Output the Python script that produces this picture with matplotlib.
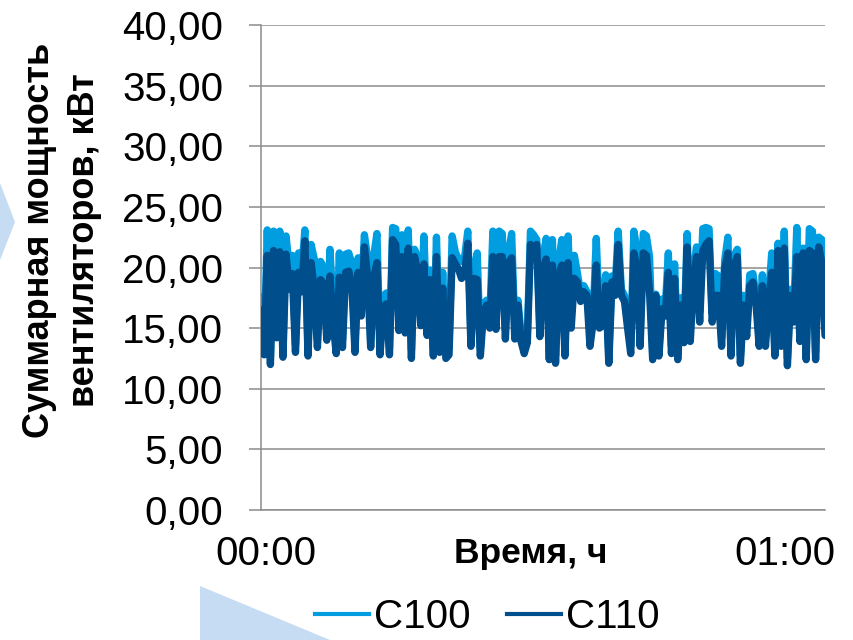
import numpy as np
import matplotlib
matplotlib.use("Agg")
import matplotlib.pyplot as plt
from matplotlib.lines import Line2D
from matplotlib.patches import Polygon

plt.rcParams["font.family"] = ["Liberation Sans", "DejaVu Sans"]

# время, с (шаг 20 с, 00:00 ... 01:00)
time_s = np.arange(0, 3601, 20)

c100 = [
    17.6, 13.4, 23.1, 12.6, 23.0, 14.8, 23.0, 13.2, 22.6, 20.0,
    21.0, 13.6, 21.2, 19.8, 23.1, 13.3, 21.9, 20.7, 14.0, 20.5,
    20.0, 14.6, 21.5, 16.8, 13.5, 21.2, 14.0, 21.1, 21.2, 20.3,
    13.6, 20.8, 17.5, 22.7, 20.8, 14.0, 21.0, 22.8, 13.4, 17.6,
    17.9, 13.4, 23.3, 23.2, 16.0, 22.7, 15.5, 23.1, 13.2, 21.5,
    20.8, 16.3, 22.6, 15.3, 19.8, 13.3, 22.5, 13.6, 19.6, 13.1,
    13.4, 22.6, 21.3, 20.7, 20.5, 20.9, 23.0, 14.3, 19.9, 21.2,
    13.3, 17.0, 17.3, 15.6, 23.0, 15.6, 23.0, 22.8, 14.8, 21.3,
    22.8, 14.8, 17.3, 14.5, 13.5, 14.4, 23.0, 22.7, 22.3, 15.0,
    20.8, 22.4, 13.0, 22.3, 12.7, 20.5, 22.3, 13.3, 22.6, 15.8,
    21.0, 19.5, 17.9, 18.5, 18.0, 17.0, 16.0, 22.4, 15.8, 16.3,
    19.4, 12.7, 19.3, 18.2, 23.0, 18.2, 17.7, 15.7, 13.5, 23.0,
    21.5, 14.2, 22.8, 22.6, 20.9, 13.0, 17.8, 13.3, 17.4, 16.6,
    21.2, 13.5, 20.3, 13.0, 17.5, 14.5, 22.8, 14.6, 19.8, 21.7,
    16.3, 23.2, 23.3, 23.2, 16.2, 19.5, 19.3, 14.2, 20.6, 22.5,
    13.3, 21.0, 21.5, 12.7, 17.7, 15.0, 19.4, 19.5, 17.6, 14.2,
    19.4, 14.2, 17.7, 21.2, 13.3, 22.0, 14.2, 23.0, 12.5, 18.2,
    16.2, 23.3, 14.6, 21.6, 13.0, 23.2, 23.0, 13.0, 22.5, 22.3,
    15.0,
]

c110 = [
    16.5, 12.8, 21.0, 12.0, 21.4, 14.2, 21.3, 12.6, 21.1, 18.2,
    19.5, 13.0, 19.6, 18.0, 22.2, 12.7, 20.4, 18.2, 13.4, 19.0,
    18.7, 14.0, 19.3, 15.5, 12.9, 19.2, 13.4, 19.6, 19.7, 18.5,
    13.0, 19.6, 16.0, 21.7, 19.3, 13.4, 19.2, 20.4, 12.8, 16.8,
    17.0, 12.8, 22.3, 21.9, 14.8, 20.9, 14.6, 21.6, 12.5, 20.9,
    19.6, 15.2, 20.3, 14.4, 19.0, 12.7, 20.9, 13.0, 18.3, 12.5,
    12.8, 20.8, 20.3, 19.9, 19.1, 19.4, 22.0, 13.5, 19.1, 19.0,
    12.7, 16.3, 16.9, 15.0, 20.9, 14.9, 20.9, 20.9, 14.1, 20.4,
    20.8, 14.1, 16.9, 13.9, 12.9, 13.8, 21.9, 21.2, 21.9, 14.3,
    19.9, 20.7, 12.4, 20.2, 12.1, 19.4, 20.2, 12.7, 20.4, 15.0,
    19.1, 18.8, 17.2, 18.0, 17.7, 13.5, 15.5, 20.2, 15.0, 15.2,
    18.5, 12.1, 18.8, 17.7, 21.9, 17.7, 17.2, 15.0, 12.9, 21.2,
    19.9, 13.5, 21.2, 21.0, 18.0, 12.4, 17.7, 12.7, 16.6, 16.0,
    19.6, 12.9, 19.1, 12.4, 16.9, 13.8, 21.7, 13.9, 18.8, 20.9,
    15.5, 21.4, 21.9, 22.2, 15.5, 17.7, 17.7, 13.5, 19.9, 21.2,
    12.7, 20.2, 20.9, 12.1, 16.9, 14.3, 18.5, 18.8, 16.9, 13.5,
    18.5, 13.5, 17.2, 19.6, 12.7, 21.4, 13.5, 21.6, 11.9, 17.7,
    15.5, 20.9, 13.9, 21.2, 12.4, 21.4, 21.2, 12.4, 21.7, 20.4,
    14.4,
]

series_names = ["C100", "C110"]
colors = ["#009ee0", "#004e8c"]
y_ticks = np.arange(0, 41, 5)
y_labels = [f"{v:.2f}".replace(".", ",") for v in y_ticks]
x_labels = ["00:00", "01:00"]

W, H = 854, 640
fig = plt.figure(figsize=(W / 100, H / 100), dpi=100)

# декоративные треугольники на фоне
tri_color = "#c6dcf2"
for pts in ([(0, 183), (15, 222), (0, 260)],
            [(200, 586), (200, 640), (330, 640)]):
    fig.patches.append(Polygon([(x / W, 1 - y / H) for x, y in pts],
                               closed=True, transform=fig.transFigure,
                               facecolor=tri_color, edgecolor="none", zorder=0))

ax = fig.add_axes([261 / W, 1 - 510 / H, (825 - 261) / W, (510 - 25) / H])
ax.set_facecolor("none")

for vals, name, col in zip([c100, c110], series_names, colors):
    ax.plot(time_s, vals, color=col, lw=5.3, solid_joinstyle="round",
            solid_capstyle="round", label=name, zorder=3)

grey = "#8c8c8c"
ax.set_xlim(0, 3600)
ax.set_ylim(0, 40)
ax.set_yticks(y_ticks, y_labels)
ax.set_xticks([])
ax.grid(axis="y", color=grey, lw=1.1, zorder=1)
for s in ["top", "right"]:
    ax.spines[s].set_visible(False)
for s in ["left", "bottom"]:
    ax.spines[s].set_color(grey)
    ax.spines[s].set_linewidth(1.1)
ax.tick_params(axis="y", direction="out", length=9, width=1.1, color=grey,
               labelsize=29, pad=18)

# подписи времени
ax.annotate(x_labels[0], xy=(0, 0), xycoords=("data", "axes fraction"),
            xytext=(5, -44), textcoords="offset pixels",
            ha="center", va="center", fontsize=29)
ax.annotate(x_labels[1], xy=(3600, 0), xycoords=("data", "axes fraction"),
            xytext=(10, -44), textcoords="offset pixels",
            ha="right", va="center", fontsize=29)

fig.text(531 / W, 1 - 553 / H, "Время, ч", ha="center", va="center",
         fontsize=25.5, fontweight="bold")
fig.text(62 / W, 1 - 240 / H, "Суммарная мощность\nвентиляторов, кВт",
         rotation=90, ha="center", va="center", fontsize=26,
         fontweight="bold", linespacing=1.38, multialignment="center")

handles = [Line2D([], [], color=c, lw=3) for c in colors]
fig.legend(handles, series_names, loc="center",
           bbox_to_anchor=(487 / W, 1 - 617 / H), ncol=2, frameon=False,
           fontsize=29, handlelength=1.35, handletextpad=0.12,
           columnspacing=0.9, borderaxespad=0, borderpad=0)

fig.savefig("out.png", dpi=100)
